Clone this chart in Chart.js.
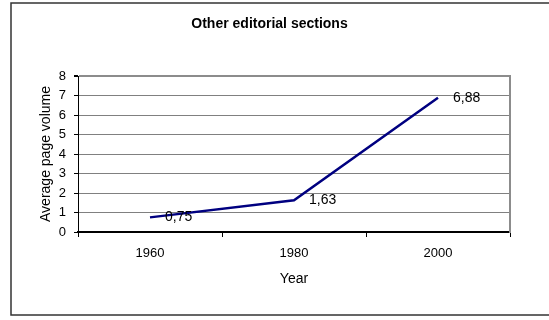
<!DOCTYPE html>
<html>
<head>
<meta charset="utf-8">
<script src="https://cdn.jsdelivr.net/npm/chart.js@4"></script>
<style>
  body { margin: 0; background: #fff; }
  canvas { display: block; }
</style>
</head>
<body>
<canvas id="chart" width="549" height="320"></canvas>
<script>
const years = ['1960', '1980', '2000'];
const pageVolume = [0.75, 1.63, 6.88];
const yMin = 0;
const yMax = 8;

const font = "Arial, 'Liberation Sans', sans-serif";

// outer frame round the whole chart (right edge runs off the picture)
const framePlugin = {
    id: 'frame',
    beforeDraw(chart) {
        const ctx = chart.ctx;
        ctx.save();
        ctx.fillStyle = '#fff';
        ctx.fillRect(0, 0, chart.width, chart.height);
        ctx.strokeStyle = '#333';
        ctx.lineWidth = 1.5;
        ctx.strokeRect(11, 3, chart.width + 20, 312);
        ctx.restore();
    }
};

// value labels to the right of each point, comma decimals
const valueLabels = {
    id: 'valueLabels',
    afterDatasetsDraw(chart) {
        const ctx = chart.ctx;
        const meta = chart.getDatasetMeta(0);
        ctx.save();
        ctx.font = '14px ' + font;
        ctx.fillStyle = '#000';
        ctx.textBaseline = 'middle';
        ctx.textAlign = 'left';
        meta.data.forEach((pt, i) => {
            const txt = pageVolume[i].toFixed(2).replace('.', ',');
            ctx.fillText(txt, pt.x + 15, pt.y);
        });
        ctx.restore();
    }
};

new Chart(document.getElementById('chart').getContext('2d'), {
    type: 'line',
    data: {
        labels: years,
        datasets: [{
            data: pageVolume,
            borderColor: '#000080',
            borderWidth: 2.5,
            pointRadius: 0,
            tension: 0,
            fill: false
        }]
    },
    options: {
        responsive: false,
        animation: false,
        layout: {
            padding: { left: 7, right: 17, top: 0, bottom: 28 }
        },
        plugins: {
            legend: { display: false },
            tooltip: { enabled: false },
            title: {
                display: true,
                text: 'Other editorial sections',
                color: '#000',
                font: { family: font, size: 14, weight: 'bold' },
                padding: { top: 15.6, bottom: 43.6 }
            }
        },
        scales: {
            x: {
                offset: true,
                afterFit: s => { s.height = 60; },
                grid: {
                    offset: true,
                    drawOnChartArea: false,
                    tickLength: 5,
                    color: '#000'
                },
                border: { color: '#000', width: 2 },
                ticks: {
                    color: '#000',
                    padding: 9,
                    font: { family: font, size: 13 }
                },
                title: {
                    display: true,
                    text: 'Year',
                    color: '#000',
                    font: { family: font, size: 14 },
                    padding: { top: 0, bottom: 4.6 }
                }
            },
            y: {
                min: yMin,
                max: yMax,
                afterFit: s => { s.width = 71; },
                grid: {
                    color: c => c.tick && c.tick.value === yMax ? '#8c8c8c' : '#808080',
                    lineWidth: c => c.tick && c.tick.value === yMax ? 2 : 1,
                    tickLength: 4,
                    tickColor: '#000'
                },
                border: { color: '#000', width: 1 },
                ticks: {
                    stepSize: 1,
                    color: '#000',
                    padding: 8,
                    font: { family: font, size: 13 }
                },
                title: {
                    display: true,
                    text: 'Average page volume',
                    color: '#000',
                    font: { family: font, size: 14 },
                    padding: { top: 31, bottom: 0 }
                }
            },
            y2: {
                position: 'right',
                min: yMin,
                max: yMax,
                afterFit: s => { s.width = 22; },
                grid: { drawOnChartArea: false, drawTicks: false },
                border: { color: '#8c8c8c', width: 2 },
                ticks: { display: false }
            }
        }
    },
    plugins: [framePlugin, valueLabels]
});
</script>
</body>
</html>
